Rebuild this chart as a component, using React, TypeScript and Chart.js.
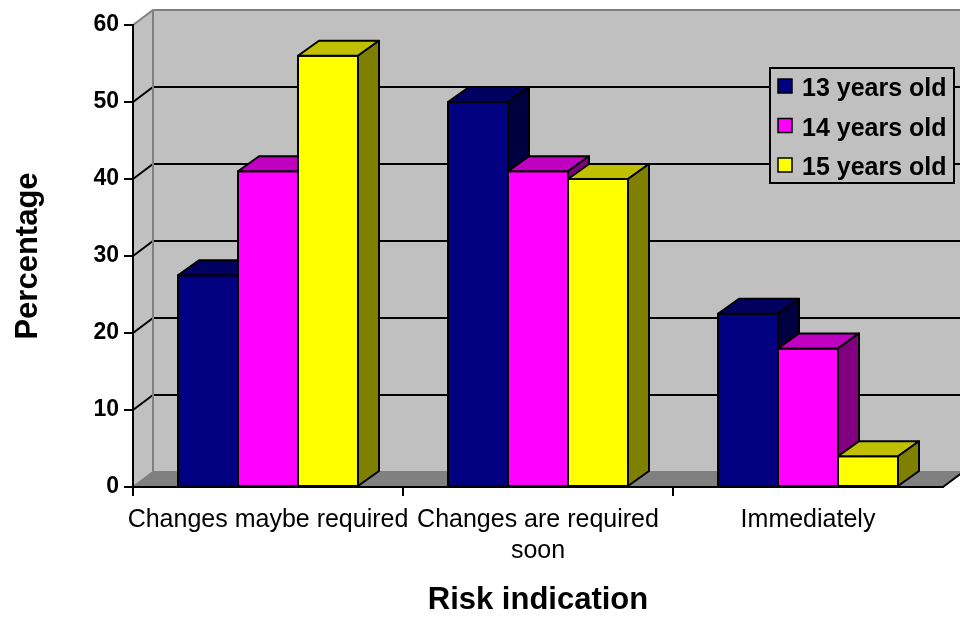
import React, { useEffect, useRef } from "react";
import { Chart, registerables } from "chart.js";

Chart.register(...registerables);

// Categories along the x axis (multi-line labels are arrays)
const categories: string[][] = [
  ["Changes maybe required"],
  ["Changes are required", "soon"],
  ["Immediately"],
];

// Series
const seriesLabels = ["13 years old", "14 years old", "15 years old"];
const age13 = [27.5, 50, 22.5];
const age14 = [41, 41, 18];
const age15 = [56, 40, 4];

// Value axis
const yMin = 0;
const yMax = 60;
const yStep = 10;

// Colours: front face, top face, side face
const frontColors = ["#000080", "#FF00FF", "#FFFF00"];
const topColors = ["#000060", "#C000C0", "#C0C000"];
const sideColors = ["#000040", "#800080", "#808000"];

const FONT = "'Liberation Sans', Arial, Helvetica, sans-serif";

// Oblique depth of the walls and of the columns
const WALL_DX = 20;
const WALL_DY = -15;
const BAR_DX = 21;
const BAR_DY = -15;

const wallsPlugin = {
  id: "walls3d",
  beforeDraw(chart: any) {
    const { ctx, chartArea, scales } = chart;
    const { left, right, top, bottom } = chartArea;
    const W = chart.width;
    const y = scales.y;
    ctx.save();
    // back wall
    ctx.fillStyle = "#C0C0C0";
    ctx.fillRect(left + WALL_DX, top + WALL_DY, W - (left + WALL_DX), bottom - top);
    // side wall
    ctx.beginPath();
    ctx.moveTo(left, top);
    ctx.lineTo(left + WALL_DX, top + WALL_DY);
    ctx.lineTo(left + WALL_DX, bottom + WALL_DY);
    ctx.lineTo(left, bottom);
    ctx.closePath();
    ctx.fill();
    // floor
    ctx.fillStyle = "#808080";
    ctx.beginPath();
    ctx.moveTo(left, bottom);
    ctx.lineTo(right, bottom);
    ctx.lineTo(right + WALL_DX, bottom + WALL_DY);
    ctx.lineTo(left + WALL_DX, bottom + WALL_DY);
    ctx.closePath();
    ctx.fill();

    // gridlines on side and back walls
    ctx.strokeStyle = "#000";
    ctx.lineWidth = 2;
    for (let v = yMin + yStep; v < yMax; v += yStep) {
      const py = y.getPixelForValue(v);
      ctx.beginPath();
      ctx.moveTo(left, py);
      ctx.lineTo(left + WALL_DX, py + WALL_DY);
      ctx.lineTo(W + 5, py + WALL_DY);
      ctx.stroke();
    }

    // wall edges
    ctx.strokeStyle = "#808080";
    ctx.lineWidth = 2;
    ctx.beginPath();
    ctx.moveTo(left, top);
    ctx.lineTo(left + WALL_DX, top + WALL_DY);
    ctx.lineTo(W + 5, top + WALL_DY);
    ctx.moveTo(left + WALL_DX, top + WALL_DY);
    ctx.lineTo(left + WALL_DX, bottom + WALL_DY);
    ctx.lineTo(W + 5, bottom + WALL_DY);
    ctx.moveTo(left, bottom);
    ctx.lineTo(left + WALL_DX, bottom + WALL_DY);
    ctx.stroke();

    // right edge of the floor
    ctx.strokeStyle = "#000";
    ctx.beginPath();
    ctx.moveTo(right, bottom);
    ctx.lineTo(right + WALL_DX, bottom + WALL_DY);
    ctx.stroke();
    ctx.restore();
  },
  beforeDatasetsDraw(chart: any) {
    const { ctx } = chart;
    const n = chart.data.labels.length;
    const nd = chart.data.datasets.length;
    ctx.save();
    ctx.lineWidth = 2;
    ctx.strokeStyle = "#000";
    ctx.lineJoin = "round";
    // paint each cluster from left to right so right-hand columns cover side faces
    for (let i = 0; i < n; i++) {
      for (let d = 0; d < nd; d++) {
        const el = chart.getDatasetMeta(d).data[i];
        if (!el) continue;
        const { x, y, base, width } = el.getProps(["x", "y", "base", "width"], true);
        const l = x - width / 2;
        const r = x + width / 2;
        // front
        ctx.fillStyle = frontColors[d];
        ctx.beginPath();
        ctx.rect(l, y, width, base - y);
        ctx.fill();
        ctx.stroke();
        // top
        ctx.fillStyle = topColors[d];
        ctx.beginPath();
        ctx.moveTo(l, y);
        ctx.lineTo(l + BAR_DX, y + BAR_DY);
        ctx.lineTo(r + BAR_DX, y + BAR_DY);
        ctx.lineTo(r, y);
        ctx.closePath();
        ctx.fill();
        ctx.stroke();
        // side
        ctx.fillStyle = sideColors[d];
        ctx.beginPath();
        ctx.moveTo(r, y);
        ctx.lineTo(r + BAR_DX, y + BAR_DY);
        ctx.lineTo(r + BAR_DX, base + BAR_DY);
        ctx.lineTo(r, base);
        ctx.closePath();
        ctx.fill();
        ctx.stroke();
      }
    }
    ctx.restore();
    return false;
  },
  afterDraw(chart: any) {
    const { ctx } = chart;
    const boxL = 770;
    const boxT = 68;
    const boxW = 184;
    const boxH = 115;
    ctx.save();
    ctx.fillStyle = "#C0C0C0";
    ctx.fillRect(boxL, boxT, boxW, boxH);
    ctx.strokeStyle = "#000";
    ctx.lineWidth = 2;
    ctx.strokeRect(boxL, boxT, boxW, boxH);
    ctx.font = `bold 25px ${FONT}`;
    ctx.textBaseline = "alphabetic";
    ctx.textAlign = "left";
    chart.data.datasets.forEach((ds: any, k: number) => {
      const rowY = boxT + 11 + k * 39.5;
      ctx.fillStyle = frontColors[k];
      ctx.fillRect(boxL + 8, rowY, 14, 14);
      ctx.lineWidth = 1.5;
      ctx.strokeRect(boxL + 8, rowY, 14, 14);
      ctx.fillStyle = "#000";
      ctx.fillText(ds.label, boxL + 32, rowY + 17);
    });
    ctx.restore();
  },
};

export default function App() {
  const ref = useRef<HTMLCanvasElement | null>(null);

  useEffect(() => {
    if (!ref.current) return;
    const chart = new Chart(ref.current, {
      type: "bar",
      data: {
        labels: categories,
        datasets: [
          { label: seriesLabels[0], data: age13, backgroundColor: frontColors[0] },
          { label: seriesLabels[1], data: age14, backgroundColor: frontColors[1] },
          { label: seriesLabels[2], data: age15, backgroundColor: frontColors[2] },
        ],
      },
      options: {
        animation: false,
        responsive: false,
        devicePixelRatio: 1,
        layout: { padding: { top: 25, right: 17, left: 0, bottom: 0 } },
        datasets: { bar: { categoryPercentage: 2 / 3, barPercentage: 1 } },
        plugins: { legend: { display: false }, tooltip: { enabled: false } },
        scales: {
          x: {
            offset: true,
            afterFit: (s: any) => {
              s.height = 132;
            },
            grid: {
              offset: true,
              drawOnChartArea: false,
              drawTicks: true,
              tickLength: 9,
              tickWidth: 2,
              tickColor: (c: any) => (c.type === "tick" ? "#000" : "rgba(0,0,0,0)"),
              color: (c: any) => (c.type === "tick" ? "#000" : "rgba(0,0,0,0)"),
              lineWidth: 2,
            },
            border: { display: true, color: "#000", width: 2 },
            ticks: {
              color: "#000",
              autoSkip: false,
              maxRotation: 0,
              padding: 9,
              font: { family: FONT, size: 25, lineHeight: 1.24 },
            },
            title: {
              display: true,
              text: "Risk indication",
              color: "#000",
              font: { family: FONT, size: 31, weight: "bold" },
              padding: { top: 0, bottom: 0 },
            },
          },
          y: {
            min: yMin,
            max: yMax,
            afterFit: (s: any) => {
              s.width = 133;
            },
            grid: {
              drawOnChartArea: false,
              drawTicks: true,
              tickLength: 9,
              tickWidth: 2,
              tickColor: "#000",
              color: "#000",
              lineWidth: 2,
            },
            border: { display: true, color: "#000", width: 2 },
            ticks: {
              stepSize: yStep,
              color: "#000",
              padding: 5,
              font: { family: FONT, size: 23, weight: "bold" },
            },
            title: {
              display: true,
              text: "Percentage",
              color: "#000",
              font: { family: FONT, size: 31, weight: "bold" },
              padding: { top: 10, bottom: 0 },
            },
          },
        },
      },
      plugins: [wallsPlugin],
    } as any);
    return () => chart.destroy();
  }, []);

  return (
    <div style={{ position: "fixed", left: 0, top: 0, width: 960, height: 619, background: "#fff" }}>
      <canvas ref={ref} width={960} height={619} />
    </div>
  );
}
